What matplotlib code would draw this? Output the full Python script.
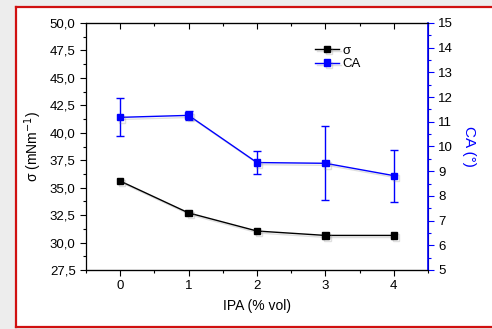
import matplotlib
matplotlib.use("Agg")
import matplotlib.pyplot as plt
import matplotlib.patheffects as pe
from matplotlib.ticker import MultipleLocator, FuncFormatter
from matplotlib.patches import Rectangle
from matplotlib.lines import Line2D

plt.rcParams["font.family"] = ["Liberation Sans", "DejaVu Sans"]

# data
ipa = [0, 1, 2, 3, 4]
sigma = [35.6, 32.7, 31.05, 30.65, 30.65]
ca = [11.18, 11.26, 9.35, 9.32, 8.82]
ca_err = [0.77, 0.19, 0.45, 1.5, 1.05]

fig = plt.figure(figsize=(4.92, 3.29), dpi=100)

# grey surround + red frame (open on the right, as in the cropped original)
fig.patches.append(Rectangle((0, 0), 1, 1, transform=fig.transFigure,
                             facecolor="#ededed", edgecolor="none", zorder=-3))
fig.patches.append(Rectangle((16 / 492, 2 / 329), 1.0, 320 / 329, transform=fig.transFigure,
                             facecolor="white", edgecolor="none", zorder=-2))
x0, y0, y1 = 16 / 492, 2 / 329, 322 / 329
for xs, ys in [([x0, 1.01], [y1, y1]), ([x0, x0], [y0, y1]), ([x0, 1.01], [y0, y0])]:
    fig.add_artist(Line2D(xs, ys, transform=fig.transFigure, color="#d01010", linewidth=1.6))

ax = fig.add_axes([86 / 492, 1 - 270 / 329, 342 / 492, 247 / 329])
ax2 = ax.twinx()

comma = FuncFormatter(lambda v, p: f"{v:.1f}".replace(".", ","))
shadow = [pe.SimpleLineShadow(offset=(1.5, -1.5), shadow_color="gray", alpha=0.25), pe.Normal()]

l1, = ax.plot(ipa, sigma, color="black", marker="s", markersize=4.5, linewidth=1, label="σ",
              path_effects=shadow)
eb = ax2.errorbar(ipa, ca, yerr=ca_err, color="blue", marker="s", markersize=4.5, linewidth=1,
                  elinewidth=1, capsize=3, capthick=1, label="CA")
eb[0].set_path_effects(shadow)

ax.set_xlim(-0.5, 4.5)
ax.set_ylim(27.5, 50)
ax2.set_ylim(5, 15)

ax.xaxis.set_major_locator(MultipleLocator(1))
ax.xaxis.set_minor_locator(MultipleLocator(0.5))
ax.yaxis.set_major_locator(MultipleLocator(2.5))
ax.yaxis.set_minor_locator(MultipleLocator(1.25))
ax.yaxis.set_major_formatter(comma)
ax2.yaxis.set_major_locator(MultipleLocator(1))
ax2.yaxis.set_minor_locator(MultipleLocator(0.5))

ax.tick_params(axis="both", which="major", labelsize=9.5, length=4, width=0.8, direction="out")
ax.tick_params(axis="both", which="minor", length=2, width=0.8, direction="out")
ax.tick_params(axis="x", which="both", top=True)
for t in ax.xaxis.get_major_ticks() + ax.xaxis.get_minor_ticks():
    t.tick2line.set_marker(3)  # top ticks point inward
ax2.tick_params(axis="y", which="major", labelsize=9.5, length=4, width=0.8, colors="blue",
                labelcolor="black")
ax2.tick_params(axis="y", which="minor", length=2, width=0.8, colors="blue")
ax2.spines["right"].set_color("blue")
ax2.spines["right"].set_linewidth(1.2)
for s in ["left", "top", "bottom"]:
    ax.spines[s].set_linewidth(0.9)
ax2.spines["left"].set_visible(False)

ax.set_xlabel("IPA (% vol)", fontsize=10, labelpad=5)
ax.set_ylabel("σ (mNm$^{-1}$)", fontsize=10, labelpad=4)
ax2.set_ylabel("CA (°)", fontsize=11, color="blue", rotation=270, labelpad=16)

ax.legend([l1, eb[0]], ["σ", "CA"], loc="upper left", bbox_to_anchor=(0.65, 0.94), frameon=False,
          fontsize=9.5, handlelength=1.8, handletextpad=0.3, labelspacing=0.1, borderpad=0)

fig.savefig("out.png", dpi=100)
